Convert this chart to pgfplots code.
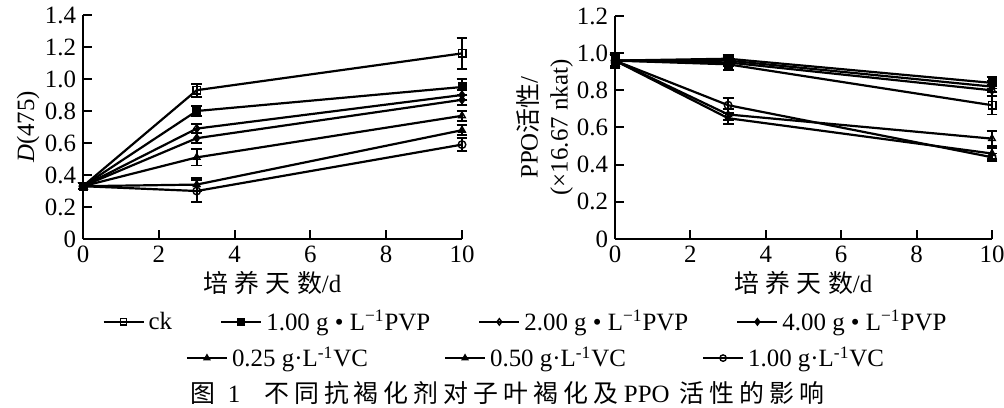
\documentclass[border=0pt]{standalone}
\usepackage{fontspec}
\setmainfont{Liberation Serif}
\newfontfamily\cjk{Noto Sans CJK SC}
\newfontfamily\cjksp[LetterSpace=25]{Noto Sans CJK SC}
\newfontfamily\cjkcap[LetterSpace=20]{Noto Sans CJK SC}
\usepackage{pgfplots}
\pgfplotsset{compat=1.18}
\pgfplotsset{
  common/.style={
    scale only axis, axis lines=left, axis line style={-, line width=1bp},
    tick align=inside, major tick length=4.5bp, tick style={line width=1bp, black},
    xmin=0, xmax=10, xtick={0,2,4,6,8,10}, ymin=0, enlargelimits=false, clip=false,
    tick label style={font=\fontsize{12.5}{14}\selectfont},
    /pgf/number format/assume math mode=true,
    label style={font=\fontsize{12.5}{15}\selectfont},
    legend style={draw=none, fill=none, font=\fontsize{12.5}{14}\selectfont},
    legend cell align=left,
    legend image code/.code={\draw[mark repeat=2,mark phase=2,mark size=1.6bp] plot coordinates {(0bp,0bp) (10bp,0bp) (20bp,0bp)};},
    every axis plot/.append style={line width=1.1bp, black, mark size=1.9bp},
  },
  eb/.style={error bars/.cd, y dir=both, y explicit,
    error bar style={line width=0.9bp},
    error mark options={rotate=90, mark size=2.7bp, line width=0.9bp}},
  open/.style={mark options={fill=white, solid, line width=0.7bp}},
  full/.style={mark options={fill=black, solid, line width=0.7bp}},
}
\begin{document}
\begin{tikzpicture}
\path[use as bounding box] (0,0) rectangle (502bp,204bp);
% ---------- left: D(475)
\begin{axis}[common, at={(41.5bp,84.5bp)}, anchor=south west,
  width=189.5bp, height=112bp, ymax=1.4,
  ytick={0,0.2,0.4,0.6,0.8,1.0,1.2,1.4},
  yticklabels={0,0.2,0.4,0.6,0.8,1.0,1.2,1.4},
  xlabel={{\cjksp 培养天数}/d},
  xlabel style={at={(axis description cs:0.5,-0.196)}, anchor=center},
  ylabel={\textit{D}(475)},
  ylabel style={at={(axis description cs:-0.145,0.5)}, anchor=center},
  legend columns=4,
  legend style={at={(axis description cs:1.17,-0.37)}, anchor=center,
    /tikz/every even column/.append style={column sep=22bp}},
]
\addplot[mark=square, open, eb] coordinates {(0,0.33)+-(0,0.02) (3,0.93)+-(0,0.04) (10,1.16)+-(0,0.095)};
\addlegendentry{ck}
\addplot[mark=square*, full, eb] coordinates {(0,0.33)+-(0,0.02) (3,0.80)+-(0,0.03) (10,0.95)+-(0,0.05)};
\addlegendentry{1.00 g • L\textsuperscript{−1}PVP}
\addplot[mark=diamond, open, eb] coordinates {(0,0.33)+-(0,0.02) (3,0.69)+-(0,0.03) (10,0.90)+-(0,0.03)};
\addlegendentry{2.00 g • L\textsuperscript{−1}PVP}
\addplot[mark=diamond*, full, eb] coordinates {(0,0.33)+-(0,0.02) (3,0.63)+-(0,0.03) (10,0.87)+-(0,0.03)};
\addlegendentry{4.00 g • L\textsuperscript{−1}PVP}
\addplot[mark=triangle, open, eb] coordinates {(0,0.33)+-(0,0.02) (3,0.51)+-(0,0.05) (10,0.77)+-(0,0.03)};
\addplot[mark=triangle*, full, eb] coordinates {(0,0.33)+-(0,0.02) (3,0.34)+-(0,0.04) (10,0.68)+-(0,0.03)};
\addplot[mark=o, open, eb] coordinates {(0,0.33)+-(0,0.02) (3,0.30)+-(0,0.07) (10,0.59)+-(0,0.04)};
\end{axis}
% ---------- right: PPO
\begin{axis}[common, at={(307.5bp,84.5bp)}, anchor=south west,
  width=188.5bp, height=111.5bp, ymax=1.2,
  ytick={0,0.2,0.4,0.6,0.8,1.0,1.2},
  yticklabels={0,0.2,0.4,0.6,0.8,1.0,1.2},
  xlabel={{\cjksp 培养天数}/d},
  xlabel style={at={(axis description cs:0.5,-0.196)}, anchor=center},
  ylabel={PPO{\cjk 活性}/\\(×16.67 nkat)},
  ylabel style={at={(axis description cs:-0.186,0.5)}, anchor=center, align=center},
  legend columns=3,
  legend style={at={(axis description cs:-0.207,-0.534)}, anchor=center,
    /tikz/every even column/.append style={column sep=36bp}},
]
\addplot[mark=triangle, open, eb] coordinates {(0,0.96)+-(0,0.03) (3,0.67)+-(0,0.03) (10,0.54)+-(0,0.04)};
\addlegendentry{0.25 g·L\textsuperscript{-1}VC}
\addplot[mark=triangle*, full, eb] coordinates {(0,0.96)+-(0,0.03) (3,0.65)+-(0,0.03) (10,0.46)+-(0,0.03)};
\addlegendentry{0.50 g·L\textsuperscript{-1}VC}
\addplot[mark=o, open, eb] coordinates {(0,0.96)+-(0,0.03) (3,0.72)+-(0,0.04) (10,0.44)+-(0,0.02)};
\addlegendentry{1.00 g·L\textsuperscript{-1}VC}
\addplot[mark=square, open, eb] coordinates {(0,0.96)+-(0,0.04) (3,0.94)+-(0,0.03) (10,0.72)+-(0,0.05)};
\addplot[mark=square*, full, eb] coordinates {(0,0.96)+-(0,0.03) (3,0.97)+-(0,0.02) (10,0.84)+-(0,0.03)};
\addplot[mark=diamond, open, eb] coordinates {(0,0.96)+-(0,0.03) (3,0.95)+-(0,0.02) (10,0.80)+-(0,0.03)};
\addplot[mark=diamond*, full, eb] coordinates {(0,0.96)+-(0,0.03) (3,0.96)+-(0,0.02) (10,0.82)+-(0,0.03)};
\end{axis}
\node[font=\fontsize{12.5}{14}\selectfont, anchor=center] at (253.75bp,7.5bp)
  {{\cjkcap 图}\hspace{6bp}1\hspace{12bp}{\cjkcap 不同抗褐化剂对子叶褐化及}\hspace{3bp}PPO\hspace{5bp}{\cjkcap 活性的影响}};
\end{tikzpicture}
\end{document}
